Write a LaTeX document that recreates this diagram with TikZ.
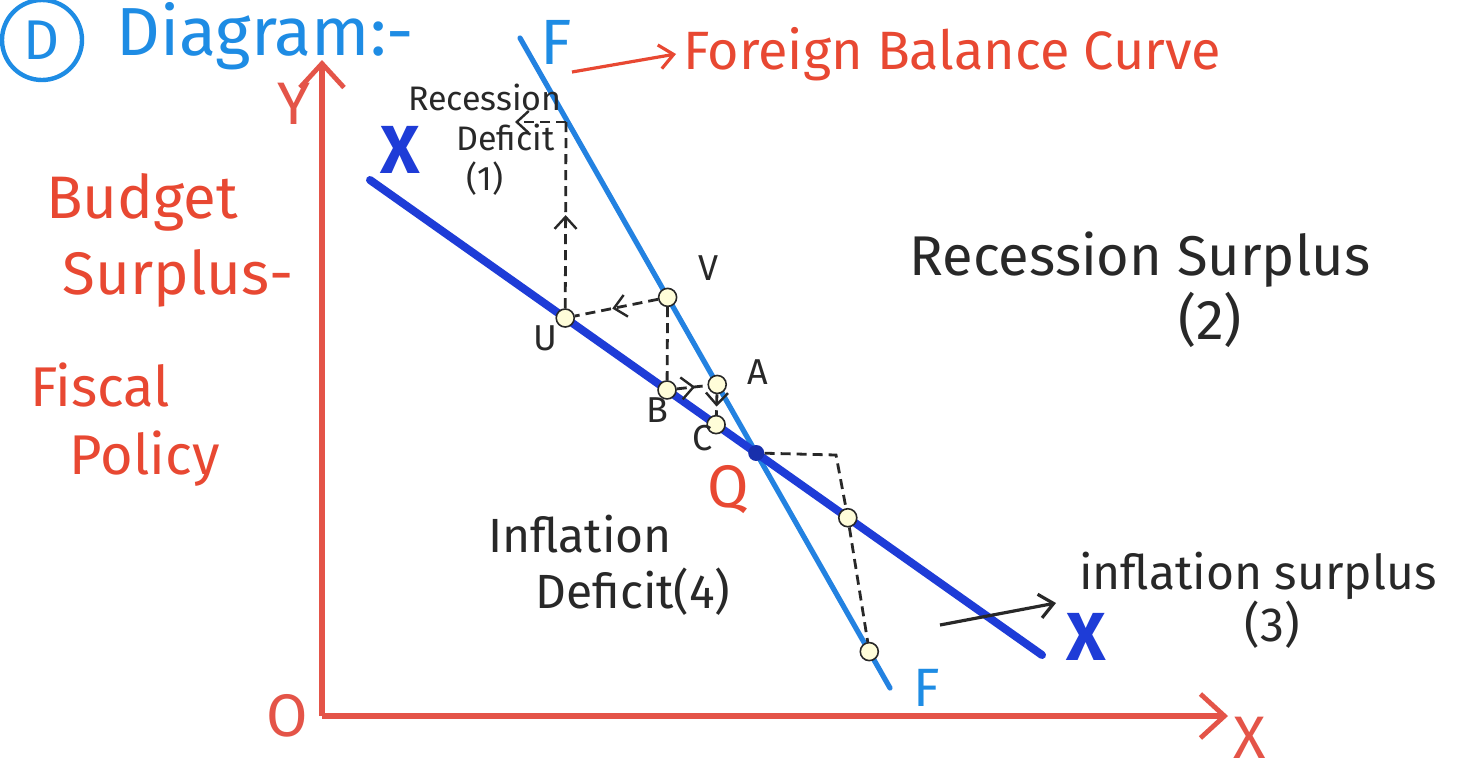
\documentclass[tikz,border=0pt]{standalone}
\usepackage{fontspec}
\setmainfont{Fira Sans}
\usetikzlibrary{arrows.meta,decorations.markings,calc}
\definecolor{axred}{RGB}{228,84,72}
\definecolor{txtred}{RGB}{232,72,50}
\definecolor{xblue}{RGB}{30,60,215}
\definecolor{fblue}{RGB}{35,130,225}
\definecolor{dblue}{RGB}{30,140,228}
\definecolor{ink}{RGB}{40,40,40}
\begin{document}
\begin{tikzpicture}[x=0.5pt,y=-0.5pt,
  axis/.style={axred,line width=2.6pt,-{Straight Barb[length=12pt,width=22pt,line width=2.4pt]}},
  xxline/.style={xblue,line width=4pt,line cap=round},
  ffline/.style={fblue,line width=2.6pt,line cap=round},
  guide/.style={ink,line width=1.4pt,dash pattern=on 5pt off 3pt},
  midarrow/.style={postaction={decorate},decoration={markings,mark=at position #1 with {\arrow[ink,line width=1.2pt]{Straight Barb[length=6pt,width=11pt]}}}},
  midarrow/.default=0.5,
  endarrow/.style={-{Straight Barb[length=6pt,width=11pt,line width=1.2pt]}},
  dot/.style={circle,draw=ink,fill=yellow!15,inner sep=0pt,minimum size=9pt,line width=0.8pt},
  lbl/.style={ink,font=\fontsize{18}{20}\selectfont},
  handtxt/.style={ink,align=center},
  redtxt/.style={txtred,align=center},
]
\useasboundingbox (0,0) rectangle (1465,772);
\fill[white] (0,0) rectangle (1465,772);

% key coordinates
\coordinate (O) at (322,716);
\coordinate (Ytop) at (322,60);
\coordinate (Xend) at (1228,716);
\coordinate (X1) at (370,180);
\coordinate (X2) at (1042,655);
\coordinate (F1) at (520,38);
\coordinate (F2) at (890,688);

% axes
\draw[axis] (O) -- (Ytop);
\draw[axis] (O) -- (Xend);

% curves
\draw[ffline] (F1) -- (F2);
\draw[xxline] (X1) -- (X2);

% points
\node[dot] (V) at ($(F1)!0.399!(F2)$) {};
\node[dot] (U) at ($(X1)!0.2905!(X2)$) {};
\node[dot] (B) at ($(X1)!0.442!(X2)$) {};
\node[dot] (A) at ($(F1)!0.533!(F2)$) {};
\node[dot] (C) at ($(X1)!0.515!(X2)$) {};
\node[circle,fill=xblue!80!black,inner sep=0pt,minimum size=8pt] (Q) at (intersection of X1--X2 and F1--F2) {};
\node[dot] (P1) at ($(X1)!0.711!(X2)$) {};
\node[dot] (P2) at ($(F1)!0.944!(F2)$) {};
\coordinate (T) at (566,122);
\coordinate (T2) at (515,122);
\coordinate (R) at (836,455);

% guide lines
\draw[guide,midarrow=0.55] (V) -- (U);
\draw[guide,midarrow=0.5] (U) -- (T);
\draw[guide,endarrow] (T) -- (T2);
\draw[guide] (V) -- (B);
\draw[guide,midarrow=0.6] (B) -- (A);
\draw[guide,midarrow=0.6] (A) -- (C);
\draw[guide] (Q) -- (R) -- (P1) -- (P2);

% point labels
\node[lbl] (lU) at (545,338) {U};
\node[lbl] (lV) at (708,268) {V};
\node[lbl] (lA) at (758,372) {A};
\node[lbl] (lB) at (657,410) {B};
\node[lbl] (lC) at (703,438) {C};
\node[txtred,font=\fontsize{30}{32}\selectfont] (lQ) at (728,490) {Q};

% curve labels
\node[xblue,font=\fontsize{34}{36}\bfseries\selectfont] (lX1) at (400,150) {X};
\node[xblue,font=\fontsize{34}{36}\bfseries\selectfont] (lX2) at (1086,637) {X};
\node[dblue,font=\fontsize{32}{34}\selectfont] (lF1) at (556,42) {F};
\node[dblue,font=\fontsize{27}{30}\selectfont] (lF2) at (927,688) {F};

% axis labels
\node[axred,font=\fontsize{30}{32}\selectfont] (lO) at (287,716) {O};
\node[axred,inner sep=0pt,font=\fontsize{30}{32}\selectfont] (lY) at (294,104) {Y};
\node[axred,font=\fontsize{30}{32}\selectfont] (lX) at (1250,738) {X};

% title
\node[dblue,circle,draw=dblue,line width=2.2pt,minimum size=40pt,inner sep=0pt,font=\fontsize{28}{30}\selectfont] (D) at (42,40) {D};
\node[dblue,anchor=west,inner sep=0pt,font=\fontsize{34}{36}\selectfont] (title) at (116,36) {Diagram:-};

% Foreign balance curve
\node[redtxt,anchor=west,font=\fontsize{27}{30}\selectfont] (fb) at (676,54) {Foreign Balance Curve};
\coordinate (fbs) at (572,72);
\draw[txtred,line width=1.6pt,-{Straight Barb[length=7pt,width=12pt,line width=1.6pt]}] (fbs) -- (fb.west);

% side text
\node[redtxt,font=\fontsize{30}{36}\selectfont] (bs) at (142,240) {Budget\\[2pt]\hspace*{1.2em}Surplus-};
\node[redtxt,font=\fontsize{28}{34}\selectfont] (fp) at (100,425) {Fiscal\\\hspace*{1.6em}Policy};

% region texts
\node[handtxt,font=\fontsize{17}{20}\selectfont] (rd) at (485,140) {Recession\\\hspace*{1.2em}Deficit\\(1)};
\node[handtxt,font=\fontsize{28}{32}\selectfont] (rs) at (1140,290) {Recession Surplus\\\hspace*{2.5em}(2)};
\node[handtxt,font=\fontsize{24}{28}\selectfont] (idf) at (580,565) {Inflation\\\hspace*{2.2em}Deficit(4)};
\node[handtxt,font=\fontsize{24}{26}\selectfont] (isp) at (1258,600) {inflation surplus\\\hspace*{0.6em}(3)};
\coordinate (ia) at (940,625);
\draw[ink,line width=1.6pt,-{Straight Barb[length=7pt,width=12pt,line width=1.6pt]}] (ia) -- (1056,603);
\end{tikzpicture}
\end{document}
